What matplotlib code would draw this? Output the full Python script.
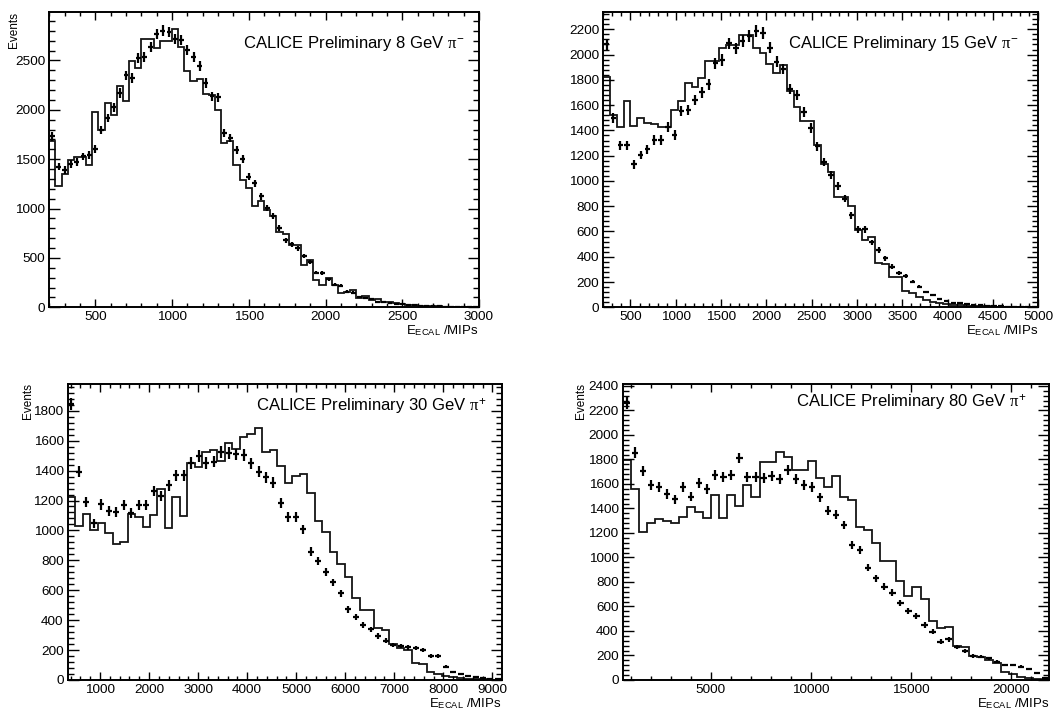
import numpy as np
import matplotlib
matplotlib.use('Agg')
import matplotlib.pyplot as plt
from matplotlib.ticker import MultipleLocator, StrMethodFormatter

plt.rcParams['font.family'] = ['Liberation Sans', 'DejaVu Sans']
plt.rcParams['mathtext.fontset'] = 'custom'
plt.rcParams['mathtext.rm'] = 'Liberation Sans'
plt.rcParams['mathtext.it'] = 'Liberation Serif'

# binning of each run (low edge, high edge, number of bins)
bins_8 = (200, 3000, 70)
bins_15 = (200, 5000, 64)
bins_30 = (340, 9190, 58)
bins_80 = (600, 21900, 53)

# 8 GeV pi-  : data points and simulation histogram
data_8 = [1730, 1425, 1392, 1450, 1470, 1527, 1544, 1605, 1797, 1916,
          2024, 2170, 2348, 2321, 2524, 2531, 2636, 2768, 2801, 2788,
          2720, 2710, 2608, 2531, 2446, 2271, 2135, 2125, 1764, 1713,
          1595, 1503, 1324, 1255, 1123, 1005, 920, 802, 677, 639,
          599, 521, 457, 352, 345, 284, 227, 220, 159, 149,
          108, 91, 81, 58, 51, 41, 34, 30, 24, 20,
          17, 14, 12, 10, 8, 7, 6, 5, 4, 3]
mc_8 = [1686, 1233, 1351, 1493, 1521, 1521, 1436, 1977, 1797, 2068,
        1950, 2237, 2092, 2490, 2423, 2717, 2717, 2626, 2693, 2693,
        2821, 2640, 2389, 2287, 2314, 2162, 2152, 2000, 1662, 1679,
        1443, 1291, 1206, 1022, 1072, 981, 927, 761, 741, 633,
        633, 430, 480, 277, 227, 294, 227, 149, 159, 176,
        98, 115, 74, 88, 51, 58, 41, 30, 25, 20,
        16, 14, 12, 10, 8, 6, 5, 4, 3, 2]

# 15 GeV pi-
data_15 = [2081, 1500, 1284, 1284, 1131, 1205, 1250, 1324, 1324, 1429,
           1364, 1553, 1561, 1641, 1701, 1765, 1931, 1957, 2089, 2050,
           2107, 2149, 2187, 2168, 2055, 1944, 1886, 1728, 1680, 1545,
           1418, 1276, 1150, 1045, 958, 861, 729, 616, 616, 513,
           453, 387, 321, 274, 247, 203, 163, 121, 97, 63,
           53, 37, 32, 26, 21, 16, 13, 11, 8, 6,
           5, 4, 3, 2]
mc_15 = [1825, 1522, 1429, 1633, 1437, 1496, 1456, 1448, 1429, 1429,
         1561, 1633, 1773, 1746, 1817, 1949, 1949, 2050, 2076, 2076,
         2155, 2155, 2055, 2010, 1923, 1852, 1918, 1712, 1588, 1474,
         1474, 1282, 1137, 1071, 874, 874, 800, 611, 532, 553,
         347, 339, 237, 237, 132, 111, 84, 58, 45, 35,
         28, 22, 18, 14, 12, 10, 8, 6, 5, 4,
         3, 3, 2, 1]

# 30 GeV pi+
data_30 = [1845, 1392, 1190, 1047, 1174, 1132, 1125, 1170, 1114, 1170,
           1170, 1263, 1230, 1303, 1370, 1370, 1452, 1497, 1452, 1459,
           1526, 1519, 1508, 1504, 1448, 1392, 1355, 1319, 1185, 1091,
           1091, 1007, 857, 795, 724, 653, 579, 472, 423, 367,
           339, 294, 263, 234, 227, 218, 212, 200, 160, 160,
           89, 56, 40, 27, 18, 11, 9, 7]
mc_30 = [1225, 1029, 1108, 1003, 1052, 985, 906, 924, 1108, 1092,
         1025, 1103, 1275, 1013, 1221, 1098, 1448, 1426, 1526, 1537,
         1466, 1586, 1542, 1626, 1644, 1682, 1526, 1541, 1430, 1314,
         1363, 1374, 1252, 1065, 991, 857, 775, 690, 550, 468,
         468, 345, 334, 241, 212, 200, 111, 107, 56, 40,
         27, 18, 12, 8, 5, 4, 3, 2]

# 80 GeV pi+
data_80 = [2259, 1856, 1709, 1592, 1573, 1518, 1475, 1573, 1497, 1605,
           1559, 1673, 1655, 1673, 1810, 1655, 1655, 1646, 1665, 1638,
           1714, 1638, 1592, 1573, 1491, 1382, 1347, 1265, 1102, 1061,
           917, 830, 762, 713, 631, 566, 522, 449, 395, 313,
           332, 267, 239, 196, 190, 177, 150, 122, 122, 109,
           87, 54, 14]
mc_80 = [1796, 1557, 1211, 1285, 1312, 1301, 1285, 1328, 1410, 1374,
         1320, 1510, 1325, 1510, 1420, 1592, 1497, 1782, 1782, 1858,
         1818, 1714, 1714, 1788, 1646, 1573, 1665, 1497, 1469, 1252,
         1224, 1116, 971, 971, 811, 686, 762, 658, 484, 427,
         435, 278, 267, 196, 185, 163, 141, 68, 49, 27,
         14, 8, 4]

titles = [r'CALICE Preliminary 8 GeV $\pi^{-}$',
          r'CALICE Preliminary 15 GeV $\pi^{-}$',
          r'CALICE Preliminary 30 GeV $\pi^{+}$',
          r'CALICE Preliminary 80 GeV $\pi^{+}$']

W, H = 1054, 713
fig = plt.figure(figsize=(W / 100, H / 100), dpi=100)


def px_rect(x0, y0, x1, y1):
    return [x0 / W, 1 - y1 / H, (x1 - x0) / W, (y1 - y0) / H]


panels = [
    dict(bins=bins_8, data=data_8, mc=mc_8, rect=(49.3, 12, 479, 307.3), ymax=2990,
         xmaj=500, xmin=100, ymaj=500, ymin=100, title=titles[0], tpos=(0.967, 0.893)),
    dict(bins=bins_15, data=data_15, mc=mc_15, rect=(603.3, 12, 1038.3, 307.3), ymax=2337,
         xmaj=500, xmin=100, ymaj=200, ymin=40, title=titles[1], tpos=(0.955, 0.893)),
    dict(bins=bins_30, data=data_30, mc=mc_30, rect=(67.7, 384, 501.7, 680), ymax=1979,
         xmaj=1000, xmin=200, ymaj=200, ymin=40, title=titles[2], tpos=(0.966, 0.923)),
    dict(bins=bins_80, data=data_80, mc=mc_80, rect=(622.7, 384, 1049.3, 680), ymax=2416,
         xmaj=5000, xmin=1000, ymaj=200, ymin=40, title=titles[3], tpos=(0.948, 0.936)),
]

for p in panels:
    ax = fig.add_axes(px_rect(*p['rect']))
    lo, hi, n = p['bins']
    edges = np.linspace(lo, hi, n + 1)
    centers = 0.5 * (edges[1:] + edges[:-1])
    w = edges[1] - edges[0]
    mc = np.array(p['mc'], dtype=float)
    dat = np.array(p['data'], dtype=float)

    ax.stairs(mc, edges, baseline=None, color='#151515', lw=1.3)
    ax.errorbar(centers, dat, yerr=np.sqrt(dat), xerr=0.4 * w, fmt='none',
                ecolor='black', elinewidth=1.6, capsize=0)

    ax.set_xlim(lo, hi)
    ax.set_ylim(0, p['ymax'])
    ax.xaxis.set_major_locator(MultipleLocator(p['xmaj']))
    ax.xaxis.set_minor_locator(MultipleLocator(p['xmin']))
    ax.yaxis.set_major_locator(MultipleLocator(p['ymaj']))
    ax.yaxis.set_minor_locator(MultipleLocator(p['ymin']))
    ax.xaxis.set_major_formatter(StrMethodFormatter('{x:.0f}'))
    ax.yaxis.set_major_formatter(StrMethodFormatter('{x:.0f}'))
    ax.tick_params(axis='both', which='both', direction='in', top=True, right=True,
                   labelsize=9.7, width=1.0, colors='black')
    ax.tick_params(axis='y', which='major', length=8, pad=3)
    ax.tick_params(axis='y', which='minor', length=4)
    ax.tick_params(axis='x', which='major', length=6, pad=3)
    ax.tick_params(axis='x', which='minor', length=3)
    for s in ax.spines.values():
        s.set_linewidth(1.4)

    ax.text(p['tpos'][0], p['tpos'][1], p['title'], transform=ax.transAxes,
            ha='right', va='center', fontsize=12)

    x0, y0, x1, y1 = p['rect']
    fig.text(x1 / W, 1 - (y1 + 27) / H, r'E$_{\mathrm{ECAL}}$ /MIPs',
             ha='right', va='baseline', fontsize=9.5)

# "Events" y titles (top-left of three panels)
for xe, ye in [(14, 12), (28, 383), (581, 383)]:
    fig.text(xe / W, 1 - ye / H, 'Events', rotation=90, ha='center', va='top',
             fontsize=8.5)

fig.savefig('out.png', dpi=100, facecolor='white')
